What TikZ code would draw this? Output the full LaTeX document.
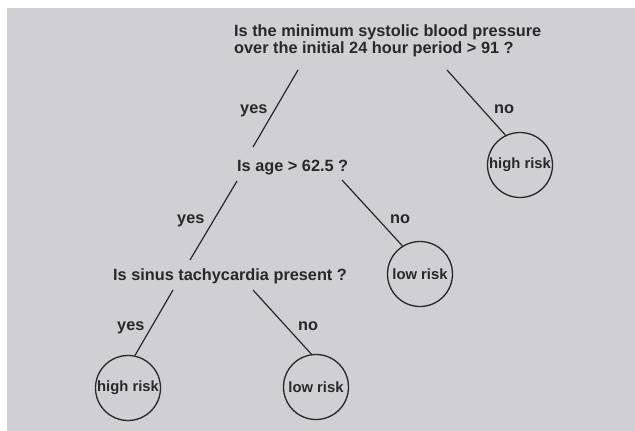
\documentclass[tikz,border=0pt]{standalone}
\usepackage{fontspec}
\setmainfont{Liberation Sans}
\definecolor{scan}{RGB}{208,208,212}
\definecolor{ink}{RGB}{40,40,40}
\tikzset{
  question/.style = {anchor=base west, inner sep=0pt, text=ink,
    font=\bfseries\fontsize{16.3}{16.6}\selectfont},
  answer/.style = {anchor=base west, inner sep=0pt, text=ink,
    font=\bfseries\fontsize{16.3}{16.6}\selectfont},
  leaf/.style = {circle, draw=ink, line width=1.3pt, minimum size=65pt,
    inner sep=0pt, text=ink, font=\bfseries\fontsize{14.8}{17}\selectfont},
  branch/.style = {ink, line width=1.2pt}
}
\begin{document}
\begin{tikzpicture}[x=1pt, y=-1pt]
\useasboundingbox (0,0) rectangle (635,431);
\fill [scan] (7,8) rectangle (635,431);
% questions
\node [question, align=left] (q1) at (234,53.3)
  {Is the minimum systolic blood pressure\\over the initial 24 hour period > 91 ?};
\node [question] (q2) at (237,171) {Is age > 62.5 ?};
\node [question] (q3) at (113,280) {Is sinus tachycardia present ?};
% outcomes
\node [leaf] (hr1) at (520,165) {high risk};
\node [leaf] (lr1) at (420,274) {low risk};
\node [leaf] (hr2) at (128,388) {high risk};
\node [leaf] (lr2) at (316,387) {low risk};
% branch ends
\coordinate (q1y) at (298,70);
\coordinate (q1n) at (447,70);
\coordinate (q2t) at (253,147);
\coordinate (q2y) at (237,181);
\coordinate (q2n) at (342,180);
\coordinate (q3t) at (190,260);
\coordinate (q3y) at (173,290);
\coordinate (q3n) at (253,290);
% branches
\draw [branch] (q1y) -- (q2t);
\draw [branch] (q1n) -- (hr1.116);
\draw [branch] (q2y) -- (q3t);
\draw [branch] (q2n) -- (lr1.122);
\draw [branch] (q3y) -- (hr2.78);
\draw [branch] (q3n) -- (lr2.98);
% labels
\node [answer] (a1y) at (240,113) {yes};
\node [answer] (a1n) at (494,113) {no};
\node [answer] (a2y) at (177,223) {yes};
\node [answer] (a2n) at (390,223) {no};
\node [answer] (a3y) at (117,330) {yes};
\node [answer] (a3n) at (298,330) {no};
\end{tikzpicture}
\end{document}
